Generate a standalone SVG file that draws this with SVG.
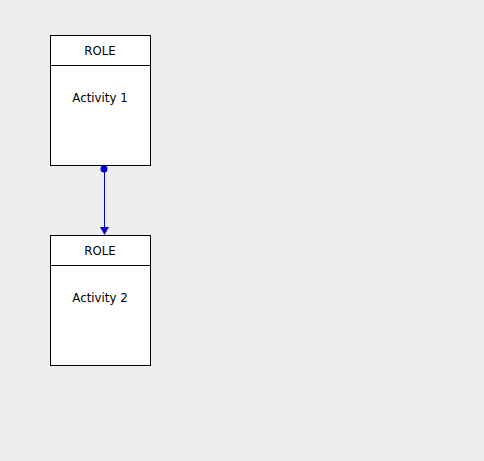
<svg xmlns="http://www.w3.org/2000/svg" width="484" height="461" viewBox="0 0 484 461">
<style>
.box{fill:#fff;stroke:#000;stroke-width:1}
.t{font-family:"DejaVu Sans",sans-serif;font-size:11.8px;fill:#000;text-anchor:middle}
.c{stroke:#0000cc;stroke-width:1;fill:none}
</style>
<rect width="484" height="461" fill="#eeeeee"/>
<g id="node1">
<rect class="box" x="50.5" y="35.5" width="100" height="130"/>
<line x1="50.5" y1="65.5" x2="150.5" y2="65.5" stroke="#000"/>
<text class="t" x="100" y="54.5">ROLE</text>
<text class="t" x="100" y="101.5">Activity 1</text>
</g>
<g id="node2">
<rect class="box" x="50.5" y="235.5" width="100" height="130"/>
<line x1="50.5" y1="265.5" x2="150.5" y2="265.5" stroke="#000"/>
<text class="t" x="100" y="254.5">ROLE</text>
<text class="t" x="100" y="301.5">Activity 2</text>
</g>
<g id="connectors">
<circle cx="104" cy="169" r="3.5" fill="#0000cc"/>
<line class="c" x1="104.5" y1="169" x2="104.5" y2="227"/>
<path d="M100,227 L109,227 L104.5,235 Z" fill="#0000cc"/>
</g>
</svg>
